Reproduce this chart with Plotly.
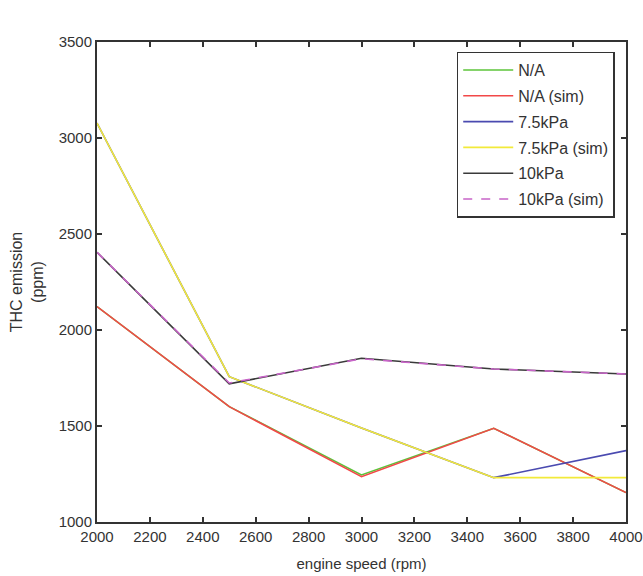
import plotly.graph_objects as go

speed = [2000, 2500, 3000, 3500, 4000]
na = [2122, 1601, 1245, 1488, 1153]
na_sim = [2122, 1601, 1236, 1488, 1153]
kpa75 = [3078, 1757, 1490, 1231, 1372]
kpa75_sim = [3078, 1757, 1490, 1231, 1231]
kpa10 = [2405, 1720, 1853, 1797, 1771]
kpa10_sim = [2405, 1724, 1850, 1797, 1771]

FONT = "Liberation Sans Narrow, Arial Narrow, Liberation Sans, Arial"

series = [
    ("N/A", na, "#5cc43a", "solid"),
    ("N/A (sim)", na_sim, "#f24848", "solid"),
    ("7.5kPa", kpa75, "#4a4ab0", "solid"),
    ("7.5kPa (sim)", kpa75_sim, "#f2ea3a", "solid"),
    ("10kPa", kpa10, "#3a3a3a", "solid"),
    ("10kPa (sim)", kpa10_sim, "#c864c8", "dash"),
]

fig = go.Figure()
for i, (name, ys, col, dash) in enumerate(series):
    fig.add_trace(go.Scatter(x=speed, y=ys, mode="lines", name=name,
                             legendgroup=f"g{i}",
                             line=dict(color=col, width=1.6, dash=dash)))

axis_common = dict(showline=True, linecolor="#333333", linewidth=2, mirror="ticks",
                   ticks="inside", ticklen=5, tickcolor="#333333", tickwidth=1.5,
                   showgrid=False, zeroline=False, automargin=False,
                   tickfont=dict(family=FONT, size=15, color="#333333"))

fig.update_layout(
    template="none",
    width=643, height=576,
    margin=dict(l=97, r=17, t=42, b=54),
    paper_bgcolor="white", plot_bgcolor="white",
    font=dict(family=FONT, size=15, color="#333333"),
    xaxis=dict(range=[2000, 4000], tickmode="array",
               tickvals=list(range(2000, 4001, 200)),
               title=dict(text="engine speed (rpm)", standoff=14,
                          font=dict(family=FONT, size=15)),
               **axis_common),
    yaxis=dict(range=[1000, 3500], tickmode="array",
               tickvals=[1000, 1500, 2000, 2500, 3000, 3500],
               title=dict(text="THC emission<br>(ppm)", standoff=11,
                          font=dict(family=FONT, size=16)),
               **axis_common),
    legend=dict(x=0.68, y=0.98, xanchor="left", yanchor="top",
                bgcolor="white", bordercolor="#333333", borderwidth=1.5,
                font=dict(family=FONT, size=16, color="#333333"),
                tracegroupgap=2, itemwidth=50),
    showlegend=True,
)

fig.write_html("out.html")
